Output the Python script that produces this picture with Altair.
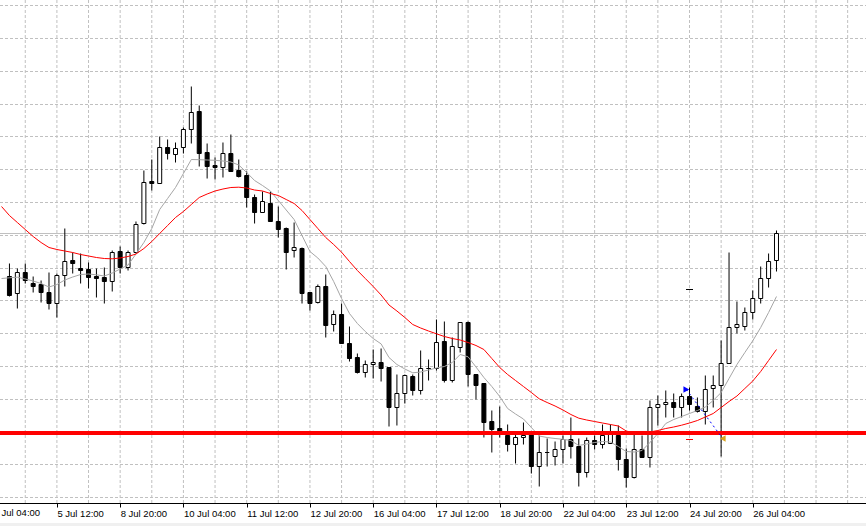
import altair as alt
import pandas as pd

# ---- candle data (H4 bars, price units; no price scale visible in the reference) ----
opens = [1.12724, 1.12707, 1.12728, 1.12717, 1.12716, 1.12708, 1.12697, 1.12725, 1.12740, 1.12732,
         1.12731, 1.12724, 1.12723, 1.12719, 1.12749, 1.12733, 1.12748, 1.12777, 1.12819, 1.12817,
         1.12853, 1.12846, 1.12853, 1.12871, 1.12889, 1.12848, 1.12835, 1.12833, 1.12847, 1.12830,
         1.12825, 1.12803, 1.12788, 1.12797, 1.12779, 1.12772, 1.12750, 1.12752, 1.12708, 1.12698,
         1.12714, 1.12676, 1.12686, 1.12657, 1.12643, 1.12628, 1.12636, 1.12638, 1.12633, 1.12593,
         1.12607, 1.12624, 1.12610, 1.12632, 1.12632, 1.12659, 1.12620, 1.12653, 1.12678, 1.12626,
         1.12617, 1.12579, 1.12572, 1.12565, 1.12556, 1.12563, 1.12567, 1.12534, 1.12548, 1.12544,
         1.12551, 1.12561, 1.12554, 1.12528, 1.12560, 1.12556, 1.12557, 1.12565, 1.12541, 1.12523,
         1.12551, 1.12543, 1.12593, 1.12596, 1.12598, 1.12593, 1.12604, 1.12594, 1.12589, 1.12612,
         1.12615, 1.12637, 1.12673, 1.12674, 1.12688, 1.12702, 1.12722, 1.12740]
highs = [1.12737, 1.12732, 1.12737, 1.12724, 1.12720, 1.12728, 1.12727, 1.12772, 1.12748, 1.12747,
         1.12738, 1.12732, 1.12733, 1.12750, 1.12754, 1.12750, 1.12779, 1.12830, 1.12841, 1.12864,
         1.12861, 1.12858, 1.12873, 1.12914, 1.12895, 1.12857, 1.12843, 1.12858, 1.12866, 1.12841,
         1.12829, 1.12806, 1.12809, 1.12809, 1.12794, 1.12773, 1.12778, 1.12753, 1.12708, 1.12716,
         1.12726, 1.12690, 1.12697, 1.12674, 1.12647, 1.12640, 1.12651, 1.12652, 1.12633, 1.12626,
         1.12626, 1.12626, 1.12650, 1.12641, 1.12681, 1.12679, 1.12663, 1.12678, 1.12679, 1.12626,
         1.12617, 1.12590, 1.12594, 1.12576, 1.12567, 1.12578, 1.12567, 1.12565, 1.12562, 1.12559,
         1.12565, 1.12583, 1.12562, 1.12563, 1.12565, 1.12576, 1.12576, 1.12575, 1.12552, 1.12569,
         1.12565, 1.12600, 1.12605, 1.12610, 1.12607, 1.12607, 1.12613, 1.12603, 1.12625, 1.12625,
         1.12660, 1.12748, 1.12699, 1.12693, 1.12710, 1.12734, 1.12747, 1.12770]
lows = [1.12704, 1.12692, 1.12717, 1.12708, 1.12698, 1.12691, 1.12683, 1.12714, 1.12727, 1.12717,
        1.12712, 1.12703, 1.12697, 1.12709, 1.12727, 1.12730, 1.12747, 1.12776, 1.12810, 1.12817,
        1.12841, 1.12838, 1.12847, 1.12857, 1.12834, 1.12822, 1.12821, 1.12823, 1.12829, 1.12823,
        1.12793, 1.12777, 1.12788, 1.12779, 1.12763, 1.12731, 1.12743, 1.12697, 1.12690, 1.12697,
        1.12663, 1.12669, 1.12657, 1.12639, 1.12627, 1.12623, 1.12622, 1.12619, 1.12574, 1.12575,
        1.12597, 1.12605, 1.12606, 1.12620, 1.12630, 1.12618, 1.12618, 1.12648, 1.12614, 1.12601,
        1.12563, 1.12548, 1.12563, 1.12549, 1.12537, 1.12556, 1.12527, 1.12514, 1.12534, 1.12535,
        1.12537, 1.12542, 1.12514, 1.12523, 1.12551, 1.12552, 1.12557, 1.12530, 1.12513, 1.12522,
        1.12543, 1.12533, 1.12575, 1.12583, 1.12583, 1.12583, 1.12590, 1.12588, 1.12576, 1.12593,
        1.12544, 1.12637, 1.12667, 1.12670, 1.12681, 1.12697, 1.12713, 1.12729]
closes = [1.12705, 1.12728, 1.12720, 1.12714, 1.12708, 1.12697, 1.12725, 1.12739, 1.12737, 1.12730,
          1.12723, 1.12722, 1.12719, 1.12748, 1.12733, 1.12748, 1.12776, 1.12818, 1.12817, 1.12853,
          1.12847, 1.12852, 1.12871, 1.12888, 1.12847, 1.12834, 1.12833, 1.12847, 1.12829, 1.12824,
          1.12803, 1.12788, 1.12799, 1.12779, 1.12771, 1.12748, 1.12753, 1.12707, 1.12697, 1.12714,
          1.12675, 1.12686, 1.12657, 1.12642, 1.12628, 1.12636, 1.12638, 1.12632, 1.12593, 1.12607,
          1.12625, 1.12610, 1.12632, 1.12632, 1.12658, 1.12620, 1.12654, 1.12678, 1.12626, 1.12615,
          1.12578, 1.12571, 1.12568, 1.12556, 1.12563, 1.12565, 1.12534, 1.12548, 1.12548, 1.12551,
          1.12561, 1.12554, 1.12528, 1.12560, 1.12556, 1.12565, 1.12568, 1.12541, 1.12523, 1.12551,
          1.12543, 1.12593, 1.12596, 1.12598, 1.12593, 1.12604, 1.12596, 1.12589, 1.12611, 1.12615,
          1.12637, 1.12673, 1.12676, 1.12688, 1.12702, 1.12722, 1.12739, 1.12767]

# ---- moving averages (first value belongs to the bar just left of view) ----
ma_slow = [1.12794,
           1.12785, 1.12778, 1.12771, 1.12764, 1.12758, 1.12753, 1.12751, 1.127495, 1.12748, 1.12746,
           1.127445, 1.12743, 1.12742, 1.127417, 1.127425, 1.12744, 1.127465, 1.12752, 1.12759, 1.12767,
           1.12775, 1.12783, 1.12789, 1.12796, 1.12803, 1.128065, 1.128095, 1.128115, 1.12813, 1.128133,
           1.128125, 1.128105, 1.128095, 1.12807, 1.12805, 1.12801, 1.12797, 1.12790, 1.12781, 1.12772,
           1.12763, 1.12756, 1.127483, 1.12739, 1.12730, 1.12722, 1.12714, 1.127055, 1.126955, 1.126895,
           1.12683, 1.12676, 1.126725, 1.126695, 1.126667, 1.12664, 1.12662, 1.126605, 1.12658, 1.12655,
           1.12651, 1.12642, 1.12633, 1.12626, 1.12620, 1.12614, 1.12608, 1.126017, 1.12598, 1.125945,
           1.125905, 1.12586, 1.125823, 1.125805, 1.12579, 1.125775, 1.12576, 1.125745, 1.125695, 1.125675,
           1.12567, 1.125685, 1.12570, 1.12572, 1.125735, 1.125753, 1.125775, 1.12580, 1.125835, 1.12587,
           1.12593, 1.12599, 1.126045, 1.12612, 1.126195, 1.12629, 1.12640, 1.12651]
ma_fast = [1.12722,
           1.127227, 1.127233, 1.127215, 1.127195, 1.12717, 1.127135, 1.12716, 1.127205, 1.127235, 1.12726,
           1.127265, 1.127257, 1.127245, 1.127275, 1.127315, 1.127355, 1.127465, 1.12758, 1.12772, 1.12791,
           1.12802, 1.12813, 1.12827, 1.12841, 1.128408, 1.128405, 1.128402, 1.128395, 1.128385, 1.128355,
           1.12828, 1.12820, 1.12815, 1.128095, 1.12800, 1.127905, 1.12781, 1.12765, 1.12749, 1.127425,
           1.12734, 1.12719, 1.12702, 1.12687, 1.12677, 1.12669, 1.12662, 1.126566, 1.12643, 1.12636,
           1.126315, 1.126277, 1.126285, 1.126305, 1.126325, 1.12634, 1.12638, 1.12646, 1.126437, 1.126335,
           1.12623, 1.12614, 1.12604, 1.12592, 1.125865, 1.125815, 1.12573, 1.125645, 1.12563, 1.12562,
           1.125612, 1.12560, 1.12555, 1.125565, 1.12558, 1.12559, 1.125585, 1.12554, 1.12549, 1.125485,
           1.12550, 1.12558, 1.12567, 1.12577, 1.12581, 1.12584, 1.12587, 1.12590, 1.125935, 1.12600,
           1.12608, 1.12622, 1.12636, 1.12648, 1.126597, 1.12673, 1.12688, 1.12704]

# ---- axis labels (bar index -> time label) ----
tick_idx = [-2, 6, 14, 22, 30, 38, 46, 54, 62, 70, 78, 86, 94]
tick_labels = ["4 Jul 04:00", "5 Jul 12:00", "8 Jul 20:00", "10 Jul 04:00", "11 Jul 12:00",
               "12 Jul 20:00", "16 Jul 04:00", "17 Jul 12:00", "18 Jul 20:00", "22 Jul 04:00",
               "23 Jul 12:00", "24 Jul 20:00", "26 Jul 04:00"]

# ---- grid (bar indices and prices) ----
vgrid_idx = [2, 6, 10, 14, 18, 22, 26, 30, 34, 38, 42, 46, 50, 54, 58, 62, 66, 70, 74, 78,
             82, 86, 90, 94, 98, 102, 106]
hgrid_prices = [1.12995, 1.12962, 1.12929, 1.12896, 1.12864, 1.12831, 1.12798, 1.12765,
                1.12732, 1.12700, 1.12667, 1.12634, 1.12601, 1.12569, 1.12536, 1.12503]

# ---- objects ----
level_price = 1.125675
trade_idx = [85.6, 90.2]
trade_price = [1.12611, 1.12562]
sl_price = 1.12561
tp_price = 1.12711
marker_idx = 86

W, H = 866, 503
FONT = "Liberation Sans"
FS = 9.5

df = pd.DataFrame({"i": list(range(len(opens))), "open": opens, "high": highs,
                   "low": lows, "close": closes})
ma_df = pd.DataFrame({"i": list(range(-1, len(ma_slow) - 1)), "ma_slow": ma_slow,
                      "ma_fast": ma_fast})

xs = alt.Scale(domain=[-0.5625, 107.6875], nice=False, zero=False)
ys = alt.Scale(domain=[1.124975, 1.130005], nice=False, zero=False)

label_expr = "{}[indexof({}, datum.value)]".format(
    "[" + ",".join("'" + t + "'" for t in tick_labels) + "]",
    "[" + ",".join(str(v) for v in tick_idx) + "]")

xaxis = alt.Axis(values=tick_idx, labelExpr=label_expr, grid=False, domain=True,
                 domainColor="black", domainWidth=1, ticks=True, tickColor="black",
                 tickSize=4, tickWidth=1, labelAlign="left", labelBaseline="top",
                 labelFont=FONT, labelFontSize=FS, labelColor="black",
                 labelPadding=1, labelOffset=0, labelOverlap=False, labelBound=False,
                 labelFlush=False, title=None)


def X(field):
    return alt.X(field, scale=xs, axis=xaxis)


def Y(field):
    return alt.Y(field, scale=ys, axis=None)


grid_color = "#c0c0c0"

vgrid = alt.Chart(pd.DataFrame({"g": vgrid_idx})).mark_rule(
    color=grid_color, strokeDash=[3, 2], strokeWidth=1).encode(
    x=X("g:Q"), y=alt.value(0), y2=alt.value(H))

hgrid = alt.Chart(pd.DataFrame({"p": hgrid_prices})).mark_rule(
    color=grid_color, strokeDash=[3, 2], strokeWidth=1).encode(
    y=Y("p:Q"), x=alt.value(0), x2=alt.value(W))

bid = alt.Chart(pd.DataFrame({"p": [closes[-1]]})).mark_rule(
    color=grid_color, strokeWidth=1).encode(
    y=Y("p:Q"), x=alt.value(0), x2=alt.value(W))

base = alt.Chart(df)
wicks = base.mark_rule(color="black", strokeWidth=1).encode(
    x=X("i:Q"), y=Y("low:Q"), y2="high:Q")

bodies = base.mark_bar(size=4, stroke="black", strokeWidth=1).encode(
    x=X("i:Q"), y=Y("open:Q"), y2="close:Q",
    fill=alt.condition("datum.close >= datum.open", alt.value("white"), alt.value("black")))

mab = alt.Chart(ma_df)
fast = mab.mark_line(color="#a6a6a6", strokeWidth=1).encode(x=X("i:Q"), y=Y("ma_fast:Q"))
slow = mab.mark_line(color="#ff0000", strokeWidth=1).encode(x=X("i:Q"), y=Y("ma_slow:Q"))

level = alt.Chart(pd.DataFrame({"p": [level_price]})).mark_rule(
    color="#ff0000", strokeWidth=4).encode(
    y=Y("p:Q"), x=alt.value(0), x2=alt.value(W))

tdf = pd.DataFrame({"i": trade_idx, "p": trade_price})
tline = alt.Chart(tdf).mark_line(color="#0000ff", strokeWidth=1, strokeDash=[2, 3]).encode(
    x=X("i:Q"), y=Y("p:Q"))
t_open = alt.Chart(tdf.iloc[[0]]).mark_point(
    shape="triangle-right", filled=True, color="#0000ff", size=45, opacity=1).encode(
    x=X("i:Q"), y=Y("p:Q"))
t_close = alt.Chart(tdf.iloc[[1]]).mark_point(
    shape="triangle-left", filled=True, color="#daa520", size=45, opacity=1).encode(
    x=X("i:Q"), y=Y("p:Q"))
marks = alt.Chart(pd.DataFrame({"i": [marker_idx, marker_idx], "p": [sl_price, tp_price],
                                "c": ["sl", "tp"]})).mark_tick(
    orient="horizontal", size=7, thickness=1, opacity=1).encode(
    x=X("i:Q"), y=Y("p:Q"),
    color=alt.Color("c:N", scale=alt.Scale(domain=["sl", "tp"], range=["#ff0000", "#000000"]),
                    legend=None))

# bottom axis line and the label of the bar left of the view (partly cut off)
axis_line = alt.Chart(pd.DataFrame({"a": [0]})).mark_rule(color="black", strokeWidth=1).encode(
    x=alt.value(0), x2=alt.value(W), y=alt.value(H + 0.5))
first_label = alt.Chart(pd.DataFrame({"i": [tick_idx[0]], "t": [tick_labels[0]]})).mark_text(
    align="left", baseline="top", font=FONT, fontSize=FS, color="black").encode(
    x=X("i:Q"), y=alt.value(H + 5), text="t:N")

band = alt.Chart(pd.DataFrame({"a": [0]})).mark_rect(color="#f0f0f0").encode(
    x=alt.value(0), x2=alt.value(W), y=alt.value(523), y2=alt.value(526))

chart = alt.layer(vgrid, hgrid, bid, wicks, bodies, fast, slow, level, tline,
                  t_open, t_close, marks, axis_line, first_label, band).properties(
    width=W, height=H,
    autosize=alt.AutoSizeParams(type="none"),
    padding={"left": 0, "top": 0, "right": 0, "bottom": 23},
    background="white",
).configure_view(stroke=None)

chart.save("out.html", embed_options={"renderer": "svg", "actions": False})
